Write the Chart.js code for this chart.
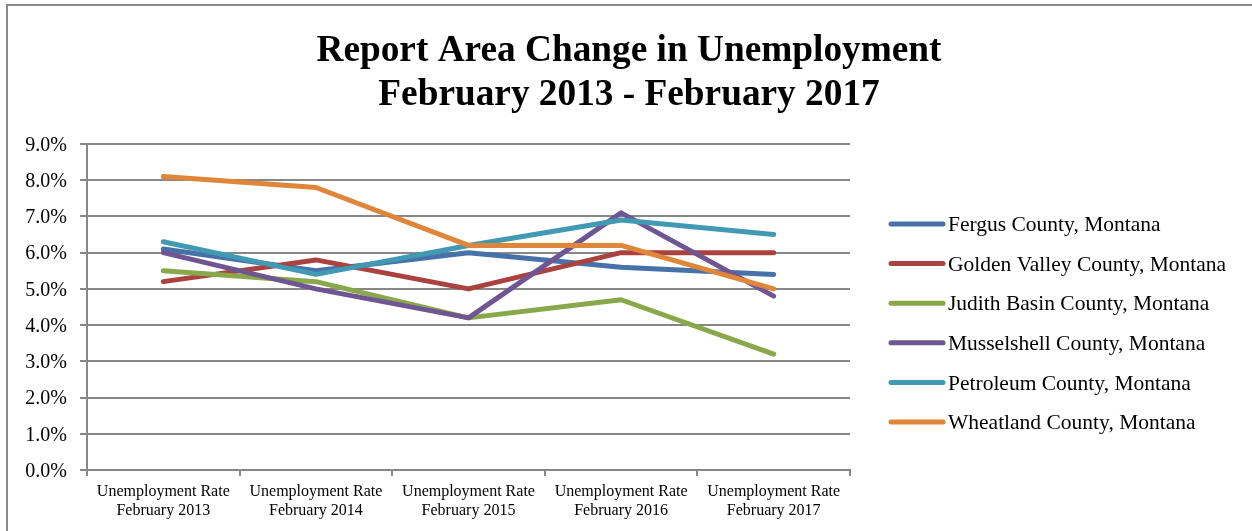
<!DOCTYPE html>
<html>
<head>
<meta charset="utf-8">
<script src="https://cdn.jsdelivr.net/npm/chart.js@4.4.1/dist/chart.umd.min.js"></script>
<style>
  html, body { margin: 0; padding: 0; background: #ffffff; }
  #frame {
    position: absolute; left: 6px; top: 4px; width: 1246px; height: 527px;
    border-top: 2px solid #898989; border-left: 2px solid #898989;
    box-sizing: border-box;
  }
  #wrap { position: absolute; left: 0; top: 0; width: 1252px; height: 531px; }
</style>
</head>
<body>
<div id="frame"></div>
<div id="wrap"><canvas id="chart" width="1252" height="531"></canvas></div>
<script>
// Reporting periods along the horizontal axis
const periods = [
  ['Unemployment Rate', 'February 2013'],
  ['Unemployment Rate', 'February 2014'],
  ['Unemployment Rate', 'February 2015'],
  ['Unemployment Rate', 'February 2016'],
  ['Unemployment Rate', 'February 2017']
];

// Unemployment rate (%) per county
const fergus       = [6.1, 5.5, 6.0, 5.6, 5.4];
const goldenValley = [5.2, 5.8, 5.0, 6.0, 6.0];
const judithBasin  = [5.5, 5.2, 4.2, 4.7, 3.2];
const musselshell  = [6.0, 5.0, 4.2, 7.1, 4.8];
const petroleum    = [6.3, 5.4, 6.2, 6.9, 6.5];
const wheatland    = [8.1, 7.8, 6.2, 6.2, 5.0];

const countyNames = [
  'Fergus County, Montana',
  'Golden Valley County, Montana',
  'Judith Basin County, Montana',
  'Musselshell County, Montana',
  'Petroleum County, Montana',
  'Wheatland County, Montana'
];
const countyValues = [fergus, goldenValley, judithBasin, musselshell, petroleum, wheatland];
const countyColors = ['#4672a9', '#aa4340', '#89a84b', '#6f5592', '#4199b3', '#e0863a'];

const titleLines = ['Report Area Change in Unemployment', 'February 2013 - February 2017'];

// Y-axis range (percent)
const yMin = 0, yMax = 9, yStep = 1;

const SERIF = '"Liberation Serif", "Times New Roman", serif';
const GRID = '#878787';

const datasets = countyNames.map((name, i) => ({
  label: name,
  data: countyValues[i],
  borderColor: countyColors[i],
  backgroundColor: countyColors[i],
  borderWidth: 5,
  borderCapStyle: 'round',
  borderJoinStyle: 'round',
  pointRadius: 0,
  pointHoverRadius: 0,
  tension: 0,
  fill: false,
  order: countyNames.length - i   // later series painted over earlier ones
}));

// Two-line heading centred across the whole canvas
const heading = {
  id: 'heading',
  afterDraw(chart) {
    const ctx = chart.ctx;
    ctx.save();
    ctx.font = 'bold 37.3px ' + SERIF;
    ctx.fillStyle = '#000000';
    ctx.textAlign = 'center';
    ctx.textBaseline = 'middle';
    titleLines.forEach((t, i) => ctx.fillText(t, 629, 51 + i * 44));
    ctx.restore();
  }
};

// Legend drawn to the right of the plot area
const sideLegend = {
  id: 'sideLegend',
  afterDraw(chart) {
    const ctx = chart.ctx;
    const x0 = 889, len = 56, top = 224, gap = 39.6;
    ctx.save();
    ctx.font = '21.5px ' + SERIF;
    ctx.textBaseline = 'middle';
    ctx.textAlign = 'left';
    chart.data.datasets.forEach((ds, i) => {
      const y = top + i * gap;
      ctx.strokeStyle = ds.borderColor;
      ctx.lineWidth = 5;
      ctx.lineCap = 'round';
      ctx.beginPath();
      ctx.moveTo(x0 + 2, y);
      ctx.lineTo(x0 + len - 2, y);
      ctx.stroke();
      ctx.fillStyle = '#000000';
      ctx.fillText(ds.label, x0 + len + 3, y + 1.5);
    });
    ctx.restore();
  }
};

new Chart(document.getElementById('chart'), {
  type: 'line',
  data: { labels: periods, datasets },
  plugins: [heading, sideLegend],
  options: {
    responsive: false,
    animation: false,
    events: [],
    layout: { padding: { top: 144, left: 0, right: 402, bottom: 0 } },
    plugins: {
      legend: { display: false },
      tooltip: { enabled: false },
      title: { display: false }
    },
    scales: {
      x: {
        type: 'category',
        offset: true,
        grid: {
          offset: true,
          drawOnChartArea: false,
          drawTicks: true,
          tickLength: 6,
          color: GRID,
          lineWidth: 2
        },
        border: { display: true, color: GRID, width: 2 },
        ticks: {
          color: '#000000',
          font: { family: SERIF, size: 16, lineHeight: 1.15 },
          padding: 7,
          maxRotation: 0,
          autoSkip: false
        },
        afterFit(scale) { scale.height = 61; }
      },
      y: {
        min: yMin,
        max: yMax,
        grid: {
          color: GRID,
          lineWidth: 2,
          drawTicks: true,
          tickLength: 7
        },
        border: { display: true, color: GRID, width: 2 },
        ticks: {
          stepSize: yStep,
          color: '#000000',
          font: { family: SERIF, size: 20 },
          padding: 13,
          labelOffset: 1.5,
          callback: v => v.toFixed(1) + '%'
        },
        afterFit(scale) { scale.width = 87; }
      }
    }
  }
});
</script>
</body>
</html>
